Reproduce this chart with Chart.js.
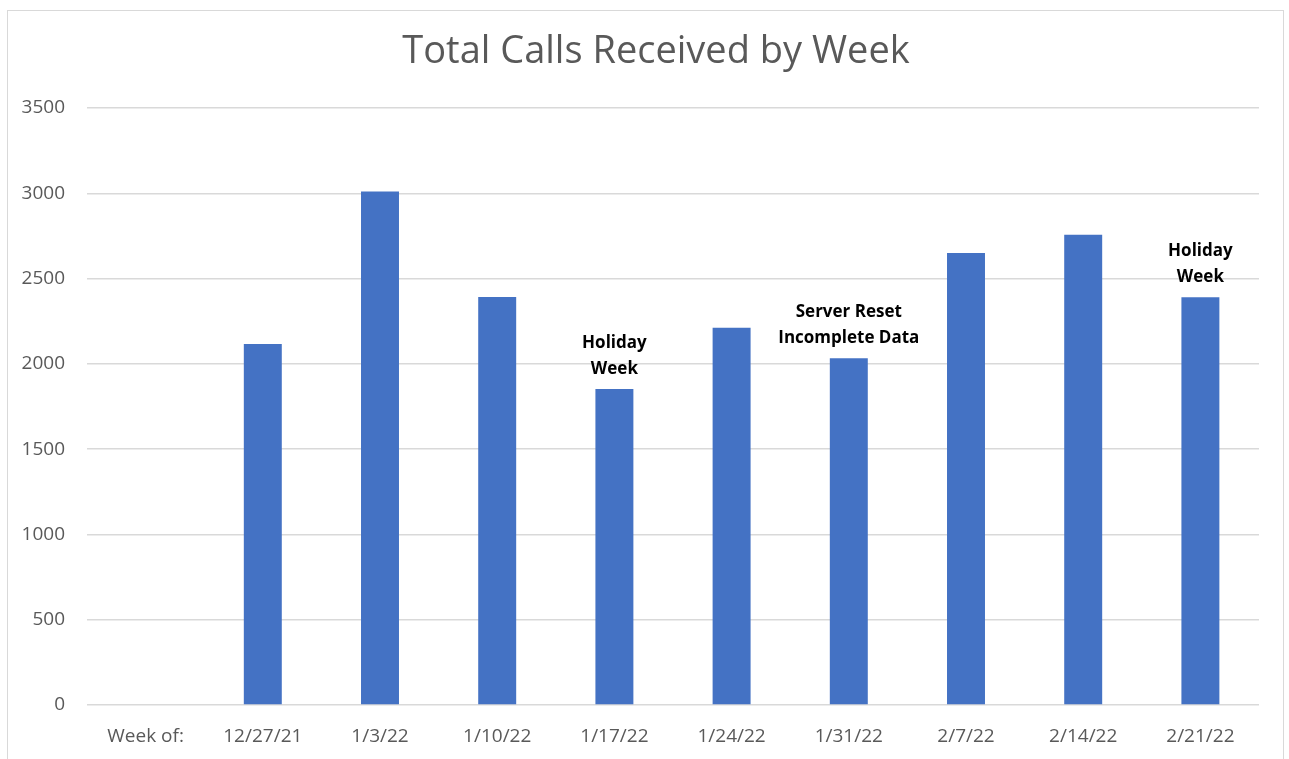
<!DOCTYPE html>
<html lang="en">
<head>
  <meta charset="UTF-8">
  <title>Total Calls Received by Week</title>
  <script src="https://cdn.jsdelivr.net/npm/chart.js@4.4.3/dist/chart.umd.min.js"></script>
  <style>
    html, body { margin: 0; padding: 0; background: #fff; }
    #wrap { position: relative; width: 1289px; height: 759px; overflow: hidden; }
    #frame {
      position: absolute; left: 7px; top: 10px;
      width: 1277px; height: 800px;
      border: 1px solid #d9d9d9;
      box-sizing: border-box;
    }
    #callsChart { position: absolute; left: 0; top: 0; }
  </style>
</head>
<body>
  <div id="wrap">
    <div id="frame"></div>
    <canvas id="callsChart" width="1289" height="759"></canvas>
  </div>

  <script>
    // data
    const chartTitle = 'Total Calls Received by Week';
    const weeks = ['Week of:', '12/27/21', '1/3/22', '1/10/22', '1/17/22', '1/24/22', '1/31/22', '2/7/22', '2/14/22', '2/21/22'];
    const calls = [null, 2117, 3011, 2392, 1853, 2211, 2033, 2650, 2757, 2390];
    const notes = [[], [], [], [], ['Holiday', 'Week'], [], ['Server Reset', 'Incomplete Data'], [], [], ['Holiday', 'Week']];
    const yMin = 0, yMax = 3500, yStep = 500;

    const FONT = "'Open Sans', 'Noto Sans', sans-serif";

    // title is drawn by hand: in the original it sits a bit right of the canvas centre
    const titleText = {
      id: 'titleText',
      afterDraw(chart) {
        const ctx = chart.ctx;
        ctx.save();
        ctx.font = '38px ' + FONT;
        ctx.fillStyle = '#595959';
        ctx.textAlign = 'center';
        ctx.textBaseline = 'alphabetic';
        ctx.fillText(chartTitle, 656, 63);
        ctx.restore();
      }
    };

    // bold notes over some bars
    const barNotes = {
      id: 'barNotes',
      afterDatasetsDraw(chart) {
        const ctx = chart.ctx;
        const meta = chart.getDatasetMeta(0);
        ctx.save();
        ctx.font = 'bold 17px ' + FONT;
        ctx.fillStyle = '#000';
        ctx.textAlign = 'center';
        ctx.textBaseline = 'middle';
        notes.forEach((lines, i) => {
          if (!lines.length) return;
          const bar = meta.data[i];
          let y = bar.y - 20;
          for (let k = lines.length - 1; k >= 0; k--) {
            ctx.fillText(lines[k], bar.x, y);
            y -= 26;
          }
        });
        ctx.restore();
      }
    };

    new Chart(document.getElementById('callsChart'), {
      type: 'bar',
      data: {
        labels: weeks,
        datasets: [{
          data: calls,
          backgroundColor: '#4472c4',
          barPercentage: 0.324,
          categoryPercentage: 1.0
        }]
      },
      options: {
        responsive: false,
        animation: false,
        layout: { padding: { left: 0, right: 30, top: 108, bottom: 0 } },
        scales: {
          x: {
            grid: { display: false },
            border: { display: false },
            ticks: { color: '#595959', font: { family: FONT, size: 19 }, padding: 12 },
            afterFit(scale) { scale.height = 54; }
          },
          y: {
            min: yMin,
            max: yMax,
            ticks: {
              stepSize: yStep,
              color: '#595959',
              font: { family: FONT, size: 19 },
              padding: 22,
              callback: (v) => String(v)
            },
            grid: { color: '#d9d9d9', lineWidth: 1.5, drawTicks: false },
            border: { display: false },
            afterFit(scale) { scale.width = 87; }
          }
        },
        plugins: {
          legend: { display: false },
          tooltip: { enabled: false },
          title: { display: false }
        }
      },
      plugins: [barNotes, titleText]
    });
  </script>
</body>
</html>
